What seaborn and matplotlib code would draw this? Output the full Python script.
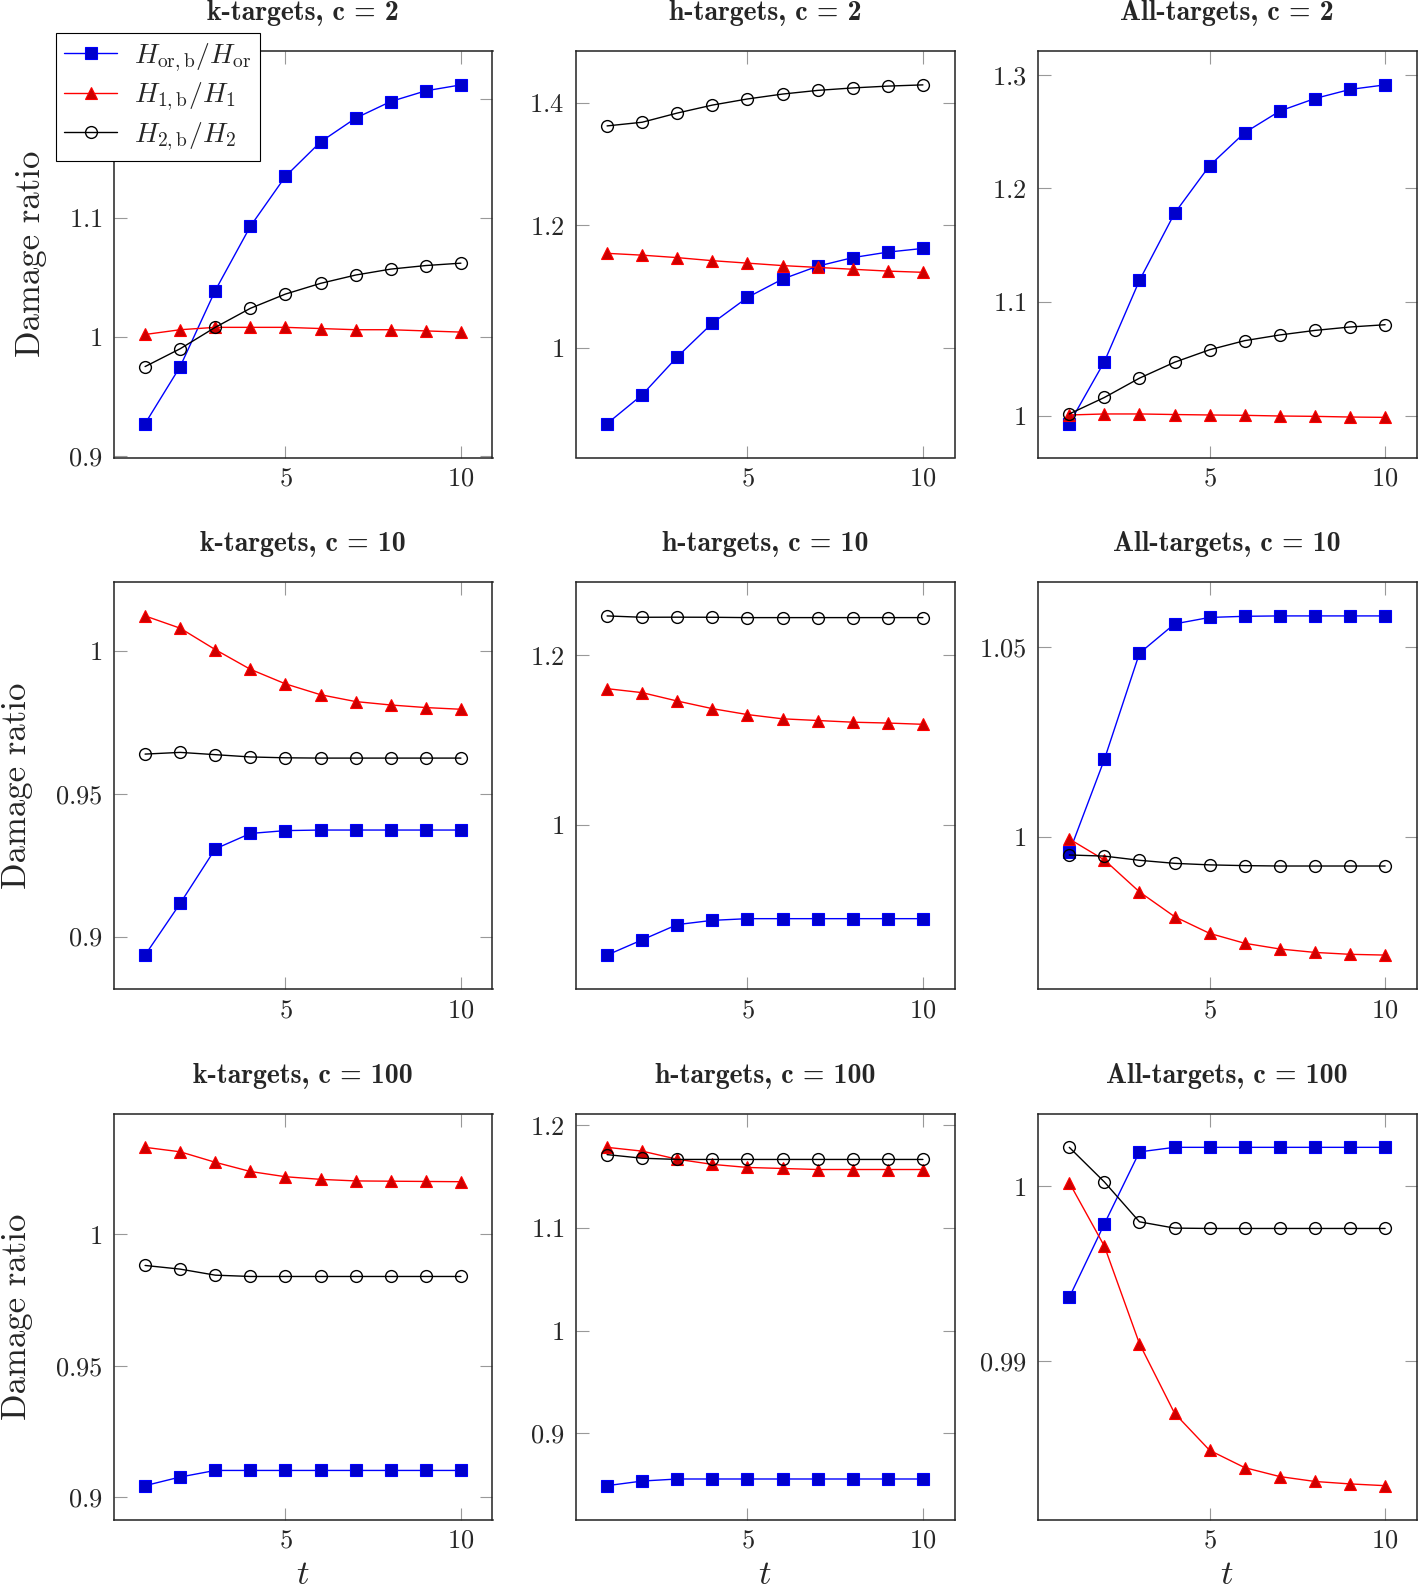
"""
Damage ratio vs t for k-, h- and All-targets at c = 2, 10, 100 (3x3 grid).
"""

import matplotlib
matplotlib.use("Agg")
import matplotlib.pyplot as plt
from matplotlib.ticker import MultipleLocator, FuncFormatter
from matplotlib.lines import Line2D
import seaborn as sns

# ---- data ----
t = [1, 2, 3, 4, 5, 6, 7, 8, 9, 10]

# k-targets
k2_or = [0.927, 0.975, 1.039, 1.093, 1.135, 1.164, 1.184, 1.198, 1.207, 1.212]
k2_h1 = [1.002, 1.006, 1.008, 1.008, 1.008, 1.007, 1.006, 1.006, 1.005, 1.004]
k2_h2 = [0.975, 0.990, 1.008, 1.024, 1.036, 1.045, 1.052, 1.057, 1.060, 1.062]

k10_or = [0.8935, 0.9116, 0.9307, 0.9361, 0.9371, 0.9373, 0.9373, 0.9373, 0.9373, 0.9373]
k10_h1 = [1.0123, 1.0080, 1.0005, 0.9936, 0.9885, 0.9847, 0.9823, 0.9811, 0.9802, 0.9796]
k10_h2 = [0.9639, 0.9645, 0.9637, 0.9629, 0.9626, 0.9625, 0.9625, 0.9625, 0.9625, 0.9625]

k100_or = [0.9043, 0.9076, 0.9101, 0.9101, 0.9101, 0.9101, 0.9101, 0.9101, 0.9101, 0.9101]
k100_h1 = [1.0332, 1.0315, 1.0275, 1.0240, 1.0220, 1.0210, 1.0204, 1.0203, 1.0202, 1.0201]
k100_h2 = [0.9882, 0.9868, 0.9845, 0.9840, 0.9840, 0.9840, 0.9840, 0.9840, 0.9840, 0.9840]

# h-targets
h2_or = [0.876, 0.923, 0.985, 1.040, 1.082, 1.112, 1.133, 1.147, 1.156, 1.162]
h2_h1 = [1.154, 1.151, 1.147, 1.142, 1.138, 1.134, 1.131, 1.128, 1.125, 1.123]
h2_h2 = [1.362, 1.368, 1.383, 1.396, 1.406, 1.414, 1.420, 1.424, 1.427, 1.429]

h10_or = [0.846, 0.864, 0.882, 0.887, 0.889, 0.889, 0.889, 0.889, 0.889, 0.889]
h10_h1 = [1.1606, 1.1559, 1.146, 1.137, 1.130, 1.125, 1.123, 1.121, 1.120, 1.1185]
h10_h2 = [1.2465, 1.2449, 1.2450, 1.2449, 1.2445, 1.2445, 1.2445, 1.2445, 1.2445, 1.2445]

h100_or = [0.849, 0.8535, 0.8555, 0.8555, 0.8555, 0.8555, 0.8555, 0.8555, 0.8555, 0.8555]
h100_h1 = [1.1786, 1.1749, 1.167, 1.162, 1.159, 1.158, 1.157, 1.157, 1.157, 1.157]
h100_h2 = [1.1715, 1.168, 1.1668, 1.1668, 1.1668, 1.1668, 1.1668, 1.1668, 1.1668, 1.1668]

# All-targets
a2_or = [0.993, 1.0475, 1.119, 1.178, 1.220, 1.249, 1.268, 1.279, 1.287, 1.291]
a2_h1 = [1.0006, 1.0015, 1.0015, 1.0010, 1.0006, 1.0003, 0.9997, 0.9994, 0.9988, 0.9985]
a2_h2 = [1.0015, 1.016, 1.033, 1.047, 1.058, 1.066, 1.071, 1.075, 1.078, 1.080]

a10_or = [0.996, 1.0204, 1.0483, 1.0560, 1.0577, 1.0580, 1.0581, 1.0581, 1.0581, 1.0581]
a10_h1 = [0.9995, 0.9940, 0.9856, 0.9791, 0.9747, 0.9721, 0.9706, 0.9697, 0.9692, 0.9690]
a10_h2 = [0.9953, 0.9950, 0.9939, 0.9931, 0.9927, 0.9925, 0.9924, 0.9924, 0.9924, 0.9924]

a100_or = [0.99366, 0.99786, 1.00198, 1.00224, 1.00224, 1.00224, 1.00224, 1.00224, 1.00224, 1.00224]
a100_h1 = [1.00022, 0.99659, 0.99101, 0.98703, 0.98491, 0.98392, 0.98341, 0.98313, 0.98299, 0.98289]
a100_h2 = [1.00224, 1.00026, 0.99798, 0.99762, 0.9976, 0.9976, 0.9976, 0.9976, 0.9976, 0.9976]

titles = [
    "k-targets, c = 2", "h-targets, c = 2", "All-targets, c = 2",
    "k-targets, c = 10", "h-targets, c = 10", "All-targets, c = 10",
    "k-targets, c = 100", "h-targets, c = 100", "All-targets, c = 100",
]
series = [
    (k2_or, k2_h1, k2_h2), (h2_or, h2_h1, h2_h2), (a2_or, a2_h1, a2_h2),
    (k10_or, k10_h1, k10_h2), (h10_or, h10_h1, h10_h2), (a10_or, a10_h1, a10_h2),
    (k100_or, k100_h1, k100_h2), (h100_or, h100_h1, h100_h2), (a100_or, a100_h1, a100_h2),
]
y_steps = [0.1, 0.2, 0.1, 0.05, 0.2, 0.05, 0.05, 0.1, 0.01]
labels = [r"$H_{\mathrm{or,b}}/H_{\mathrm{or}}$", r"$H_{1,\mathrm{b}}/H_1$", r"$H_{2,\mathrm{b}}/H_2$"]

# line / marker styles (pgfplots-like)
STYLES = [
    dict(color="#0000ff", marker="s", markersize=9, markerfacecolor="#0000cc",
         markeredgecolor="#0000ff", markeredgewidth=0.8),
    dict(color="#ff0000", marker="^", markersize=9, markerfacecolor="#cc0000",
         markeredgecolor="#ff0000", markeredgewidth=0.8),
    dict(color="black", marker="o", markersize=8.5, markerfacecolor="none",
         markeredgecolor="black", markeredgewidth=1.0),
]

sns.set_theme(style="white", context="paper")
plt.rcParams["font.family"] = ["cmr10", "DejaVu Serif"]
plt.rcParams["mathtext.fontset"] = "cm"
plt.rcParams["axes.formatter.use_mathtext"] = True

W, H = 1418, 1592
fig = plt.figure(figsize=(W / 100, H / 100), dpi=100)

col_left = [113.5, 575.5, 1037.7]
col_w = 379
row_top = [51, 582, 1113.5]
row_bot = [457.5, 989, 1519.5]
ylab_x = [-0.175, -0.212, -0.212]

fmt = FuncFormatter(lambda v, p: f"${v:g}$")

for i, (title, ser, step) in enumerate(zip(titles, series, y_steps)):
    r, c = divmod(i, 3)
    ax = fig.add_axes([col_left[c] / W, 1 - row_bot[r] / H,
                       col_w / W, (row_bot[r] - row_top[r]) / H])
    for vals, st in zip(ser, STYLES):
        sns.lineplot(x=t, y=vals, ax=ax, linewidth=1.0, legend=False,
                     estimator=None, **st)

    # pgfplots-style 10% enlarged limits
    lo = min(min(s) for s in ser)
    hi = max(max(s) for s in ser)
    pad = 0.1 * (hi - lo)
    ax.set_ylim(lo - pad, hi + pad)
    xpad = 0.1 * (max(t) - min(t))
    ax.set_xlim(min(t) - xpad, max(t) + xpad)

    ax.xaxis.set_major_locator(MultipleLocator(5))
    ax.yaxis.set_major_locator(MultipleLocator(step))
    ax.xaxis.set_major_formatter(fmt)
    ax.yaxis.set_major_formatter(fmt)
    ax.tick_params(axis="both", direction="in", length=9, width=0.8,
                   color="#999999", labelsize=19, top=True, right=True,
                   bottom=True, left=True)
    ax.tick_params(axis="x", pad=7)
    ax.tick_params(axis="y", pad=8)
    for sp in ax.spines.values():
        sp.set_color("#222222")
        sp.set_linewidth(1.1)

    ax.set_title(title, fontfamily="cmb10", fontsize=20, pad=22)
    if c == 0:
        ax.set_ylabel("Damage ratio", fontsize=25)
        ax.yaxis.set_label_coords(ylab_x[r], 0.5)
    else:
        ax.set_ylabel("")
    if r == 2:
        ax.set_xlabel(r"$t$", fontsize=25)
        ax.xaxis.set_label_coords(0.5, -0.098)
    else:
        ax.set_xlabel("")

handles = [Line2D([], [], linewidth=1.0, **st) for st in STYLES]
fig.legend(handles, labels, loc="upper left",
           bbox_to_anchor=(56 / W, 1 - 33 / H), fontsize=20,
           frameon=True, fancybox=False, edgecolor="black", framealpha=1,
           handlelength=1.9, handletextpad=0.6, borderpad=0.3,
           labelspacing=0.25, borderaxespad=0)

fig.savefig("out.png", dpi=100)
